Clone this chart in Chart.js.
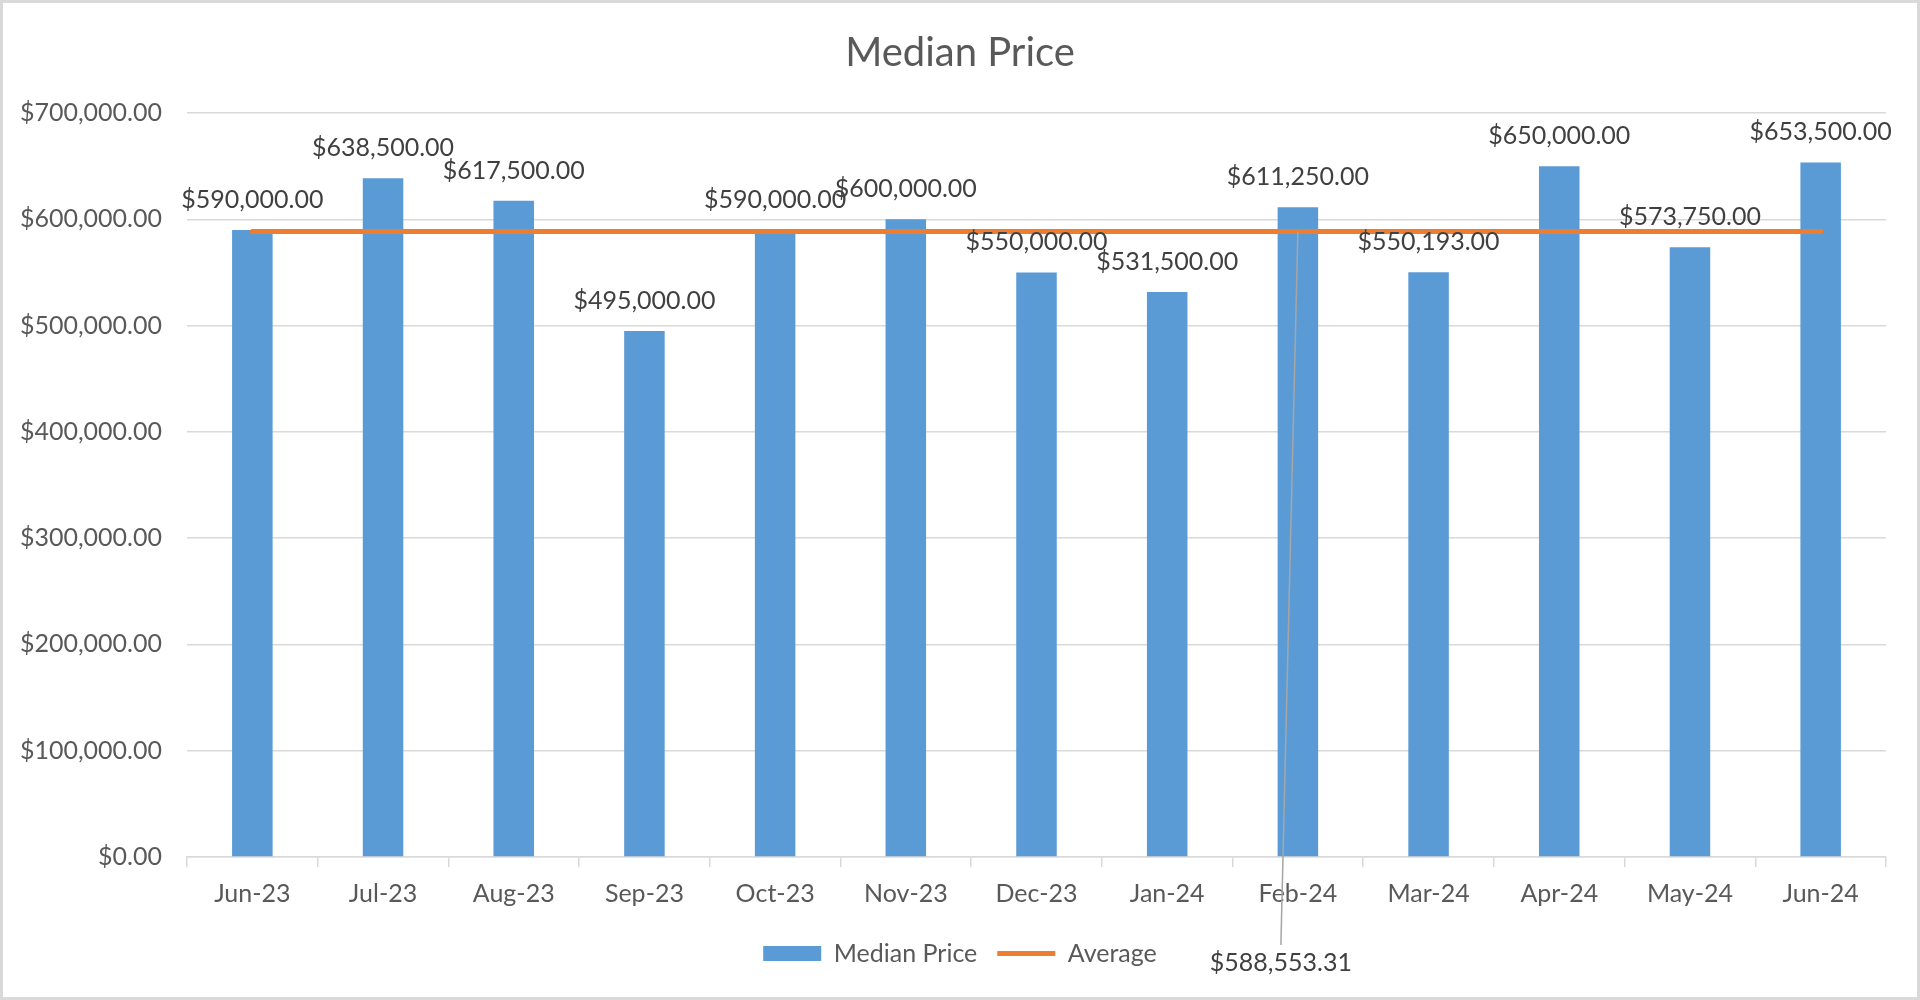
<!DOCTYPE html>
<html>
<head>
<meta charset="utf-8">
<title>Median Price</title>
<script src="https://cdn.jsdelivr.net/npm/chart.js@4.4.1/dist/chart.umd.min.js"></script>
<style>
  html, body { margin: 0; padding: 0; background: #fff; }
  canvas { display: block; }
</style>
</head>
<body>
<canvas id="median" width="1920" height="1000"></canvas>
<script>
// data
const months = ['Jun-23', 'Jul-23', 'Aug-23', 'Sep-23', 'Oct-23', 'Nov-23', 'Dec-23',
                'Jan-24', 'Feb-24', 'Mar-24', 'Apr-24', 'May-24', 'Jun-24'];
const medianPrice = [590000, 638500, 617500, 495000, 590000, 600000, 550000,
                     531500, 611250, 550193, 650000, 573750, 653500];
const averagePrice = [588553.31, 588553.31, 588553.31, 588553.31, 588553.31, 588553.31, 588553.31,
                      588553.31, 588553.31, 588553.31, 588553.31, 588553.31, 588553.31];
const averageLabelIndex = 8; // Feb-24, where the callout for the average sits

const FONT = 'Lato, "Open Sans", sans-serif';
const money = v => '$' + Number(v).toLocaleString('en-US', { minimumFractionDigits: 2, maximumFractionDigits: 2 });

// white background + light frame round the picture
const frame = {
    id: 'frame',
    beforeDraw(chart) {
        const c = chart.ctx;
        c.save();
        c.fillStyle = '#ffffff';
        c.fillRect(0, 0, chart.width, chart.height);
        c.strokeStyle = '#D9D9D9';
        c.lineWidth = 3;
        c.strokeRect(1.5, 1.5, chart.width - 3, chart.height - 3);
        c.restore();
    }
};

// value labels above the bars and the callout for the average
const labels = {
    id: 'labels',
    afterDatasetsDraw(chart) {
        const c = chart.ctx;
        c.save();
        c.font = '25px ' + FONT;
        c.fillStyle = '#404040';
        c.textAlign = 'center';
        c.textBaseline = 'middle';
        chart.getDatasetMeta(0).data.forEach((bar, i) => {
            c.fillText(money(medianPrice[i]), bar.x, bar.y - 30);
        });

        const pt = chart.getDatasetMeta(1).data[averageLabelIndex];
        const lx = pt.x - 17;
        const ly = chart.height - 37;
        c.strokeStyle = '#A6A6A6';
        c.lineWidth = 1.5;
        c.beginPath();
        c.moveTo(pt.x, pt.y);
        c.lineTo(lx, ly - 18);
        c.stroke();
        c.fillText(money(averagePrice[averageLabelIndex]), lx, ly);
        c.restore();
    }
};

const ctx = document.getElementById('median').getContext('2d');
const chart = new Chart(ctx, {
    data: {
        labels: months,
        datasets: [{
            type: 'bar',
            label: 'Median Price',
            data: medianPrice,
            backgroundColor: '#5B9BD5',
            borderWidth: 0,
            barPercentage: 0.31,
            categoryPercentage: 1,
            pointStyle: 'rect',
            order: 2
        }, {
            type: 'line',
            label: 'Average',
            data: averagePrice,
            borderColor: '#ED7D31',
            backgroundColor: '#ED7D31',
            borderWidth: 5,
            borderCapStyle: 'round',
            pointRadius: 0,
            pointStyle: 'line',
            fill: false,
            tension: 0,
            order: 1
        }]
    },
    options: {
        responsive: false,
        animation: false,
        devicePixelRatio: 1,
        layout: { padding: { left: 0, right: 0, top: 0, bottom: 24 } },
        plugins: {
            title: {
                display: true,
                text: 'Median Price',
                color: '#595959',
                font: { family: FONT, size: 40, weight: 'normal' },
                padding: { top: 29, bottom: 36 }
            },
            legend: {
                position: 'bottom',
                labels: {
                    usePointStyle: true,
                    pointStyleWidth: 58,
                    boxHeight: 15,
                    padding: 20,
                    color: '#595959',
                    font: { family: FONT, size: 25 },
                    sort: (a, b) => a.datasetIndex - b.datasetIndex
                }
            },
            tooltip: { enabled: false }
        },
        scales: {
            x: {
                offset: true,
                grid: { display: true, drawOnChartArea: false, drawTicks: true, tickLength: 10, color: '#D9D9D9', lineWidth: 1.5 },
                border: { color: '#D9D9D9', width: 1.5 },
                ticks: { color: '#595959', padding: 12, font: { family: FONT, size: 25 } }
            },
            y: {
                min: 0,
                max: 700000,
                afterFit(scale) { scale.width = 187; },
                grid: { color: '#D9D9D9', lineWidth: 1.5, drawTicks: false },
                border: { display: false },
                ticks: {
                    stepSize: 100000,
                    padding: 25,
                    color: '#595959',
                    font: { family: FONT, size: 25 },
                    callback: v => money(v)
                }
            },
            // empty strip on the right so the plot ends where the reference does
            spacer: {
                type: 'linear',
                position: 'right',
                afterFit(scale) { scale.width = 34; },
                grid: { drawOnChartArea: false, drawTicks: false },
                border: { display: false },
                ticks: { display: false }
            }
        }
    },
    plugins: [frame, labels]
});
</script>
</body>
</html>
